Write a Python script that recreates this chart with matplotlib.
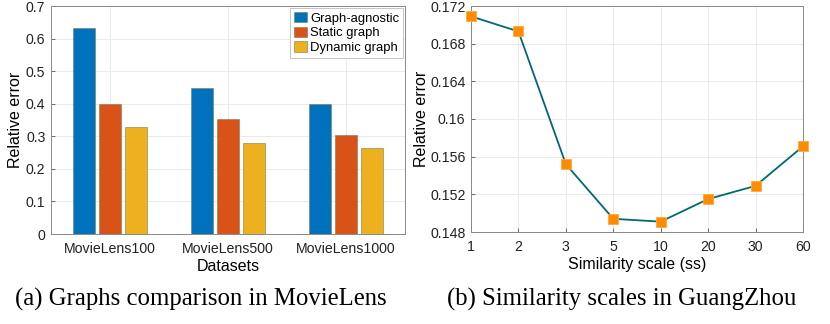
import numpy as np
import matplotlib.pyplot as plt

# (a) bar data
datasets = ["MovieLens100", "MovieLens500", "MovieLens1000"]
graph_agnostic = [0.633, 0.448, 0.398]
static_graph = [0.400, 0.352, 0.303]
dynamic_graph = [0.330, 0.278, 0.263]
series_names = ["Graph-agnostic", "Static graph", "Dynamic graph"]

# (b) line data
scale_labels = ["1", "2", "3", "5", "10", "20", "30", "60"]
scale_error = [0.1709, 0.1693, 0.1552, 0.1494, 0.1491, 0.1515, 0.1529, 0.1571]

plt.rcParams["font.family"] = ["Liberation Sans", "DejaVu Sans"]
fs = 10.2   # tick labels
lfs = 11.5  # axis labels
axis_col = "#555555"

fig = plt.figure(figsize=(8.3, 3.24), dpi=100)
ax1 = fig.add_axes([51/830, 1 - 234/324, 354/830, 228/324])
ax2 = fig.add_axes([471/830, 1 - 232/324, 332/830, 226/324])

# ---- left: grouped bars
colors = ["#0072BD", "#D95319", "#EDB120"]
x = np.arange(1, len(datasets) + 1)
w = 0.185
offs = [-0.222, 0.0, 0.222]
for vals, off, c, name in zip([graph_agnostic, static_graph, dynamic_graph], offs, colors, series_names):
    ax1.bar(x + off, vals, width=w, color=c, edgecolor="#7a7a50", linewidth=0.4, label=name, zorder=3)
ax1.set_xlim(0.5, 3.5)
ax1.set_ylim(0, 0.7)
ax1.set_yticks(np.arange(0, 0.71, 0.1))
ax1.set_yticklabels(["0", "0.1", "0.2", "0.3", "0.4", "0.5", "0.6", "0.7"])
ax1.set_xticks(x)
ax1.set_xticklabels(datasets)
ax1.set_ylabel("Relative error", fontsize=lfs)
ax1.yaxis.set_label_coords(-0.08, 0.5)
ax1.set_xlabel("Datasets", fontsize=lfs, labelpad=2)
ax1.grid(True, color="#e6e6e6", linewidth=0.6, zorder=0)
leg = ax1.legend(loc="upper right", fontsize=9.4, handlelength=1.0, handleheight=0.85,
                 handletextpad=0.2, borderpad=0.3, labelspacing=0.15, borderaxespad=0.15,
                 fancybox=False, edgecolor="#bbbbbb", framealpha=1)
leg.get_frame().set_linewidth(0.6)

# ---- right: line
xi = np.arange(1, len(scale_labels) + 1)
ax2.plot(xi, scale_error, color="#006A70", linewidth=1.3, marker="s", markersize=7,
         markerfacecolor="#FF8C00", markeredgecolor="#FFA940", markeredgewidth=0.6, zorder=3,
         clip_on=False)
ax2.set_xlim(1, 8)
ax2.set_ylim(0.148, 0.172)
ax2.set_xticks(xi)
ax2.set_xticklabels(scale_labels)
yt = np.arange(0.148, 0.1721, 0.004)
ax2.set_yticks(yt)
ax2.set_yticklabels(["0.148", "0.152", "0.156", "0.16", "0.164", "0.168", "0.172"])
ax2.set_ylabel("Relative error", fontsize=lfs)
ax2.yaxis.set_label_coords(-0.128, 0.5)
ax2.set_xlabel("Similarity scale (ss)", fontsize=lfs, labelpad=2)
ax2.grid(True, color="#e6e6e6", linewidth=0.6, zorder=0)

for ax in (ax1, ax2):
    ax.tick_params(labelsize=fs, length=3, width=0.6, direction="in")
    ax.tick_params(axis="x", colors=axis_col, labelcolor="#222222", pad=6)
    ax.tick_params(axis="y", colors=axis_col, labelcolor="#222222", pad=4)
    ax.set_axisbelow(True)
    for s in ax.spines.values():
        s.set_color("#888888")
        s.set_linewidth(0.7)

fig.text(201/830, 1 - 299/324, "(a) Graphs comparison in MovieLens", ha="center", va="center",
         fontsize=17.8, family=["Liberation Serif", "DejaVu Serif"])
fig.text(622/830, 1 - 299/324, "(b) Similarity scales in GuangZhou", ha="center", va="center",
         fontsize=17.8, family=["Liberation Serif", "DejaVu Serif"])

fig.savefig("out.png", dpi=100)
